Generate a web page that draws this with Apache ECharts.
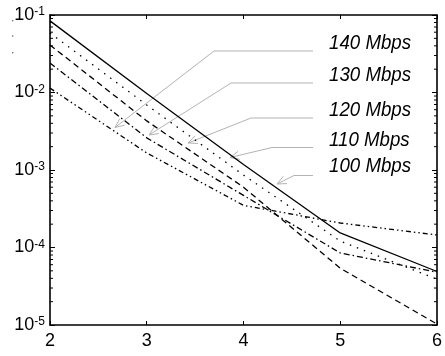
<!DOCTYPE html>
<html><head><meta charset="utf-8">
<script src="https://cdn.jsdelivr.net/npm/echarts@6/dist/echarts.min.js"></script>
<style>html,body{margin:0;padding:0;background:#fff}#c{width:445px;height:356px}</style>
</head><body><div id="c"></div>
<script>
// ---- data ----
const xValues = [2, 3, 4, 5, 6];
const ber100 = [0.084, 0.0097, 0.00118, 1.54e-4, 4.9e-5];   // solid
const ber110 = [0.0586, 0.0069, 8.6e-4, 1.21e-4, 3.9e-5];   // dotted
const ber120 = [0.041, 0.0043, 6.0e-4, 5.4e-5, 1.03e-5];    // dashed
const ber130 = [0.024, 0.0026, 4.7e-4, 8.5e-5, 4.8e-5];     // dash-dot
const ber140 = [0.0114, 0.00166, 3.5e-4, 2.07e-4, 1.45e-4]; // dash-dot-dot
const seriesNames = ['100 Mbps', '110 Mbps', '120 Mbps', '130 Mbps', '140 Mbps'];
const xTicks = [2, 3, 4, 5, 6];
const yDecades = [1e-5, 1e-4, 1e-3, 1e-2, 1e-1];
const minorMultipliers = [2, 3, 4, 5, 6, 7, 8, 9];
const annotationLabels = ['140 Mbps', '130 Mbps', '120 Mbps', '110 Mbps', '100 Mbps'];

// ---- styling ----
const FONT = '"Liberation Sans", Arial, sans-serif';
const dashStyles = ['solid', [1.5, 6], [6, 4], [6, 3, 1.5, 3], [5, 3, 1.5, 3, 1.5, 3]];
const allSeries = [ber100, ber110, ber120, ber130, ber140];

const minorValues = [];
yDecades.slice(0, -1).forEach(d => minorMultipliers.forEach(m => minorValues.push(d * m)));

// annotation layout (pixels): text centre y, leader horizontal y, leader start x, arrow tip
const annLayout = [
  {ty: 43, ly: 51, lx: 214, tip: [115, 127.5]},
  {ty: 75, ly: 83, lx: 231, tip: [149, 135]},
  {ty: 110, ly: 118, lx: 251, tip: [188, 143]},
  {ty: 140, ly: 147.5, lx: 272, tip: [230, 157.5]},
  {ty: 166.5, ly: 175.5, lx: 294, tip: [277, 184]}
];
const graphics = [];
const GRAY = '#b3b3b3';
annLayout.forEach((a, i) => {
  graphics.push({type: 'line', silent: true, shape: {x1: a.lx, y1: a.ly, x2: 313, y2: a.ly}, style: {stroke: GRAY, lineWidth: 1}});
  graphics.push({type: 'line', silent: true, shape: {x1: a.lx, y1: a.ly, x2: a.tip[0], y2: a.tip[1]}, style: {stroke: GRAY, lineWidth: 1}});
  const ang = Math.atan2(a.ly - a.tip[1], a.lx - a.tip[0]);
  const L = 10, sp = 0.42;
  graphics.push({type: 'polyline', silent: true, shape: {points: [
    [a.tip[0] + L * Math.cos(ang + sp), a.tip[1] + L * Math.sin(ang + sp)],
    a.tip,
    [a.tip[0] + L * Math.cos(ang - sp), a.tip[1] + L * Math.sin(ang - sp)]
  ]}, style: {stroke: GRAY, lineWidth: 1, fill: null}});
  graphics.push({type: 'text', x: 329, y: a.ty, scaleX: 0.89, silent: true,
    style: {text: annotationLabels[i], font: 'italic 21px ' + FONT, fill: '#000', align: 'left', verticalAlign: 'middle'}});
});
[[12.7, 20.7], [12.7, 36], [12.7, 52.7]].forEach(p => graphics.push({type: 'circle', silent: true, shape: {cx: p[0], cy: p[1], r: 0.8}, style: {fill: '#666'}}));

const chart = echarts.init(document.getElementById('c'), null, {renderer: 'canvas'});
const axisLineStyle = {color: '#000', width: 1.6};
const option = {
  animation: false,
  backgroundColor: '#fff',
  grid: {left: 50, right: 1, top: 15, bottom: 31, containLabel: false},
  xAxis: [
    {type: 'value', min: 2, max: 6, interval: 1,
     axisLine: {lineStyle: axisLineStyle}, axisTick: {inside: true, length: 4, lineStyle: {color: '#000', width: 1}},
     axisLabel: {color: '#000', fontSize: 18, fontFamily: FONT, margin: 7, showMaxLabel: true, alignMaxLabel: 'center', alignMinLabel: 'center'},
     splitLine: {show: false}},
    {type: 'value', position: 'top', min: 2, max: 6, interval: 1,
     axisLine: {lineStyle: axisLineStyle}, axisTick: {inside: true, length: 4, lineStyle: {color: '#000', width: 1}},
     axisLabel: {show: false}, splitLine: {show: false}}
  ],
  yAxis: [
    {type: 'log', logBase: 10, min: 1e-5, max: 0.1, interval: 1,
     axisLine: {lineStyle: axisLineStyle}, axisTick: {inside: true, length: 5, lineStyle: {color: '#000', width: 1}},
     axisLabel: {margin: 5, formatter: v => '{b|10}{s|' + Math.round(Math.log10(v)) + '}',
       rich: {b: {fontSize: 18, fontFamily: FONT, color: '#000', lineHeight: 18},
              s: {fontSize: 12, fontFamily: FONT, color: '#000', lineHeight: 12, verticalAlign: 'top', padding: [0, 0, 14, 0]}}},
     splitLine: {show: false}},
    {type: 'log', logBase: 10, min: 1e-5, max: 0.1, interval: 1, position: 'right',
     axisLine: {lineStyle: axisLineStyle}, axisTick: {inside: true, length: 5, lineStyle: {color: '#000', width: 1}},
     axisLabel: {show: false}, splitLine: {show: false}}
  ],
  graphic: graphics,
  series: allSeries.map((arr, i) => ({
    name: seriesNames[i], type: 'line', xAxisIndex: 0, yAxisIndex: 0,
    data: xValues.map((x, j) => [x, arr[j]]),
    symbol: 'none', silent: true,
    lineStyle: {color: '#000', width: 1.3, type: dashStyles[i], cap: 'butt'}
  })).concat([{
    type: 'custom', xAxisIndex: 0, yAxisIndex: 0, silent: true, clip: false,
    data: minorValues.map(v => [xTicks[0], v]),
    renderItem: (params, api) => {
      const v = api.value(1);
      const pl = api.coord([xTicks[0], v]);
      const pr = api.coord([xTicks[xTicks.length - 1], v]);
      return {type: 'group', children: [
        {type: 'line', shape: {x1: pl[0], y1: pl[1], x2: pl[0] + 3, y2: pl[1]}, style: {stroke: '#000', lineWidth: 1}},
        {type: 'line', shape: {x1: pr[0] - 3, y1: pr[1], x2: pr[0], y2: pr[1]}, style: {stroke: '#000', lineWidth: 1}}
      ]};
    }
  }])
};
chart.setOption(option);
</script></body></html>
